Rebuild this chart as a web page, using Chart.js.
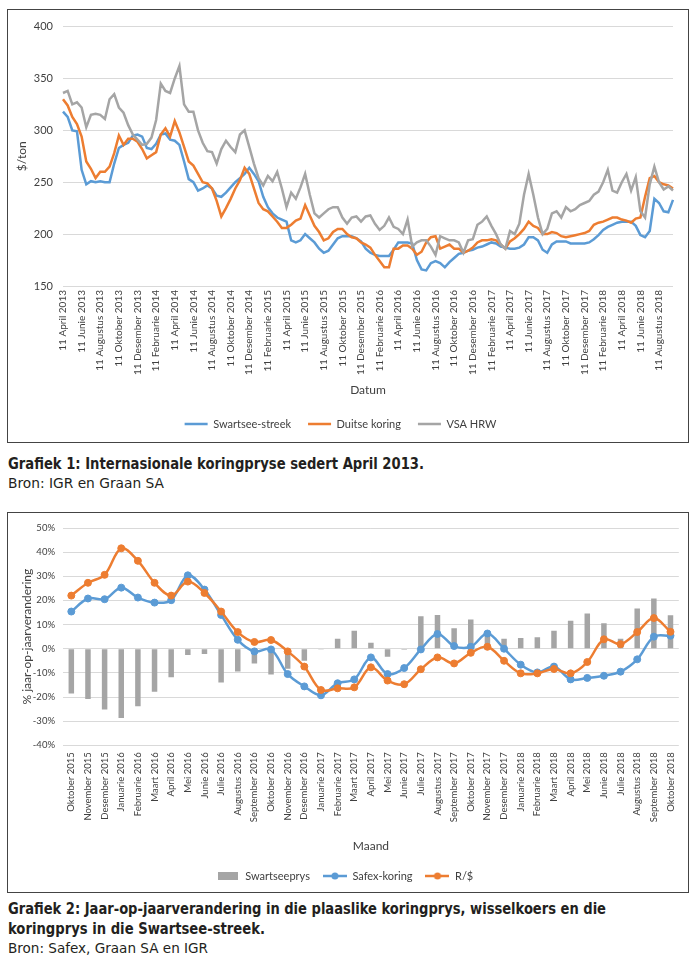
<!DOCTYPE html>
<html><head><meta charset="utf-8">
<script src="https://cdn.jsdelivr.net/npm/chart.js@4.4.1/dist/chart.umd.min.js"></script>
<style>
html,body{margin:0;padding:0;background:#fff;}
body{width:700px;height:956px;position:relative;overflow:hidden;}
.box{position:absolute;border:1.5px solid #444;box-sizing:border-box;}
canvas{position:absolute;}
.cap{position:absolute;left:8px;white-space:nowrap;color:#231f20;transform-origin:0 0;line-height:1;}
.cb{font-weight:bold;font-size:16px;font-family:"Liberation Sans Narrow","DejaVu Sans Condensed","Roboto",sans-serif;}
.cr{font-size:14px;font-family:"Liberation Sans Narrow","DejaVu Sans Condensed","Roboto",sans-serif;}
</style></head><body>
<div class="box" style="left:7px;top:9px;width:682px;height:434px"></div>
<div class="box" style="left:7px;top:512px;width:682px;height:381px"></div>
<canvas id="c1" width="681" height="432" style="left:8px;top:10px"></canvas>
<canvas id="c2" width="681" height="379" style="left:8px;top:513px"></canvas>
<div class="cap cb" data-w="416" style="top:456px">Grafiek 1: Internasionale koringpryse sedert April 2013.</div>
<div class="cap cr" data-w="156" style="top:476px">Bron: IGR en Graan SA</div>
<div class="cap cb" data-w="598" style="top:901px">Grafiek 2: Jaar-op-jaarverandering in die plaaslike koringprys, wisselkoers en die</div>
<div class="cap cb" data-w="257" style="top:921px">koringprys in die Swartsee-streek.</div>
<div class="cap cr" data-w="200" style="top:941px">Bron: Safex, Graan SA en IGR</div>
<script>
// ---------- Chart 1 data ----------
const monthNames = ['Januarie','Februarie','Maart','April','Mei','Junie','Julie','Augustus','September','Oktober','November','Desember'];
const halfMonthDays = ['11','26'];
const startYear = 2013, startMonthIdx = 3, monthCount = 66;
const dates = [];
for (let k = 0; k < monthCount; k++) {
  const m = (startMonthIdx + k) % 12, y = startYear + Math.floor((startMonthIdx + k) / 12);
  halfMonthDays.forEach(d => dates.push(d + ' ' + monthNames[m] + ' ' + y));
}
const swartseeStreek = [
318,313,300,299,262,248,251,250,251,250,
250,268,283,286,288,295,296,294,283,282,
287,296,297,291,290,286,270,253,250,242,
244,247,244,237,236,240,245,250,254,258,
264,258,251,236,226,220,216,214,212,194,
192,194,200,196,192,186,182,184,190,196,
198,198,198,196,193,186,182,180,179,179,
179,185,192,192,192,191,175,166,165,172,
174,172,168,173,177,181,182,184,185,187,
188,190,192,191,188,187,186,186,187,190,
197,197,194,185,182,190,193,193,193,191,
191,191,191,192,195,199,204,207,209,211,
212,212,212,208,199,197,203,234,230,222,
221,233];
const duitseKoring = [
330,324,313,306,294,270,263,254,260,260,
265,278,295,286,292,292,289,282,273,276,
279,296,302,294,309,298,284,270,266,258,
250,249,244,232,217,225,234,244,252,264,
258,244,230,224,222,217,212,206,206,209,
213,215,228,218,208,202,194,196,202,205,
205,200,197,196,192,190,187,180,174,168,
168,186,186,189,189,186,180,183,192,197,
198,186,188,190,186,186,182,184,187,192,
194,194,195,194,190,186,193,196,200,205,
212,208,206,200,200,202,201,198,197,198,
199,200,201,203,209,211,212,214,216,216,
214,213,211,215,216,236,254,256,250,248,
247,244];
const vsaHrw = [
336,338,325,327,322,303,315,316,315,311,
330,335,322,317,305,296,291,286,287,293,
310,345,338,336,350,362,325,318,318,300,
288,280,279,268,282,290,284,279,296,300,
284,268,254,247,256,251,260,244,226,240,
234,245,258,238,220,216,220,224,226,226,
216,210,216,217,212,217,218,210,204,208,
216,207,205,200,214,188,192,194,194,188,
180,198,196,194,194,192,182,194,195,209,
212,217,208,200,190,186,203,200,210,238,
258,238,216,200,205,220,222,216,226,222,
224,228,230,232,238,241,250,262,242,240,
250,258,242,255,222,216,248,265,250,243,
246,242];
const tickEvery = 4;

// ---------- Chart 2 data ----------
const months2 = ['Oktober 2015','November 2015','Desember 2015','Januarie 2016','Februarie 2016','Maart 2016','April 2016','Mei 2016','Junie 2016','Julie 2016','Augustus 2016','September 2016','Oktober 2016','November 2016','Desember 2016','Januarie 2017','Februarie 2017','Maart 2017','April 2017','Mei 2017','Junie 2017','Julie 2017','Augustus 2017','September 2017','Oktober 2017','November 2017','Desember 2017','Januarie 2018','Februarie 2018','Maart 2018','April 2018','Mei 2018','Junie 2018','Julie 2018','Augustus 2018','September 2018','Oktober 2018'];
const swartseeprys = [-18.5,-20.8,-25.2,-28.7,-23.8,-17.8,-11.8,-2.6,-2.2,-14.0,-9.4,-6.1,-10.7,-8.3,-5.0,-0.3,4.1,7.4,2.5,-3.3,-0.4,13.5,14.0,8.5,12.1,6.2,4.1,4.4,4.7,7.4,11.6,14.6,10.5,4.1,16.7,20.8,13.9];
const safexKoring = [15.4,20.8,20.5,25.3,21.2,19.1,20.1,30.4,24.5,14.0,3.7,-1.1,-0.3,-10.5,-15.6,-19.3,-14.3,-12.7,-3.6,-10.5,-8.0,-0.3,6.1,1.1,0.8,6.3,0.0,-6.6,-9.8,-7.4,-12.7,-12.1,-11.2,-9.5,-4.4,5.0,5.4];
const randDollar = [22.0,27.3,30.6,41.6,36.4,27.3,22.0,27.8,23.1,15.4,6.9,2.8,3.6,-1.1,-7.4,-17.1,-16.4,-16.0,-7.7,-13.2,-14.7,-8.5,-3.6,-6.1,-1.7,0.8,-5.0,-10.2,-10.2,-8.4,-10.2,-5.5,3.9,1.9,6.9,12.7,7.0];

const BLUE = '#5B9BD5', ORANGE = '#ED7D31', GRAY = '#A5A5A5';
const TXT = '#404040', GRID = '#D9D9D9';
Chart.defaults.font.family = 'Lato';
Chart.defaults.color = TXT;

new Chart(document.getElementById('c1'), {
  type: 'line',
  data: {
    labels: dates,
    datasets: [
      {label: 'Swartsee-streek', data: swartseeStreek, borderColor: BLUE, backgroundColor: BLUE, borderWidth: 2.5, pointRadius: 0, order: 3},
      {label: 'Duitse koring', data: duitseKoring, borderColor: ORANGE, backgroundColor: ORANGE, borderWidth: 2.5, pointRadius: 0, order: 2},
      {label: 'VSA HRW', data: vsaHrw, borderColor: GRAY, backgroundColor: GRAY, borderWidth: 2.5, pointRadius: 0, order: 1}
    ]
  },
  options: {
    responsive: false, animation: false,
    layout: {padding: {top: 13, right: 16, bottom: 2.5, left: 0}},
    plugins: {
      tooltip: {enabled: false},
      legend: {position: 'bottom', labels: {usePointStyle: true, pointStyle: 'line', pointStyleWidth: 23, padding: 17, font: {size: 11}, color: TXT, sort: (a, b) => a.datasetIndex - b.datasetIndex}}
    },
    scales: {
      x: {
        grid: {display: false, drawTicks: false}, border: {display: false},
        ticks: {autoSkip: false, minRotation: 90, maxRotation: 90, padding: 4, font: {size: 10}, color: TXT,
          callback: function(v, i) { return i % tickEvery === 0 ? this.getLabelForValue(v) : ''; }},
        title: {display: true, text: 'Datum', font: {size: 12}, color: TXT, padding: {top: 4, bottom: 4}},
        afterFit: s => { s.height = 115.5; }
      },
      y: {
        min: 150, max: 400,
        grid: {color: GRID, drawTicks: false}, border: {display: false},
        ticks: {stepSize: 50, padding: 10, font: {size: 11}, color: TXT},
        title: {display: true, text: '$/ton', font: {size: 12}, color: TXT, padding: {top: 7, bottom: 0}},
        afterFit: s => { s.width = 55; }
      }
    }
  }
});

function lineIcon(color) {
  const c = document.createElement('canvas'); c.width = 24; c.height = 10;
  const g = c.getContext('2d');
  g.strokeStyle = color; g.lineWidth = 2.5; g.beginPath(); g.moveTo(0, 5); g.lineTo(24, 5); g.stroke();
  g.fillStyle = color; g.beginPath(); g.arc(12, 5, 3.5, 0, Math.PI * 2); g.fill();
  return c;
}
function boxIcon(color) {
  const c = document.createElement('canvas'); c.width = 20; c.height = 8;
  const g = c.getContext('2d'); g.fillStyle = color; g.fillRect(0, 0, 20, 8);
  return c;
}
const legendIcons = [boxIcon(GRAY), lineIcon(BLUE), lineIcon(ORANGE)];

new Chart(document.getElementById('c2'), {
  type: 'bar',
  data: {
    labels: months2,
    datasets: [
      {type: 'bar', label: 'Swartseeprys', data: swartseeprys, backgroundColor: GRAY, categoryPercentage: 1, barPercentage: 0.33, order: 3},
      {type: 'line', label: 'Safex-koring', data: safexKoring, borderColor: BLUE, backgroundColor: BLUE, borderWidth: 2.5, pointRadius: 3.5, pointBorderWidth: 1, pointBackgroundColor: BLUE, tension: 0.35, order: 2},
      {type: 'line', label: 'R/$', data: randDollar, borderColor: ORANGE, backgroundColor: ORANGE, borderWidth: 2.5, pointRadius: 3.5, pointBorderWidth: 1, pointBackgroundColor: ORANGE, tension: 0.35, order: 1}
    ]
  },
  options: {
    responsive: false, animation: false,
    layout: {padding: {top: 15, right: 8, bottom: 0.5, left: 0}},
    plugins: {
      tooltip: {enabled: false},
      legend: {position: 'bottom', labels: {usePointStyle: true, pointStyleWidth: 24, padding: 13, font: {size: 11}, color: TXT,
        sort: (a, b) => a.datasetIndex - b.datasetIndex,
        generateLabels(chart) {
          const items = Chart.defaults.plugins.legend.labels.generateLabels(chart);
          items.forEach(it => { it.pointStyle = legendIcons[it.datasetIndex]; });
          return items;
        }}}
    },
    scales: {
      x: {
        grid: {display: false, drawTicks: false}, border: {display: false},
        ticks: {autoSkip: false, minRotation: 90, maxRotation: 90, padding: 7, font: {size: 9.5}, color: TXT},
        title: {display: true, text: 'Maand', font: {size: 12}, color: TXT, padding: {top: 4, bottom: 4}},
        afterFit: s => { s.height = 112.2; }
      },
      y: {
        min: -40, max: 50,
        grid: {color: GRID, drawTicks: false}, border: {display: false},
        ticks: {stepSize: 10, padding: 8, font: {size: 9.5}, color: TXT, callback: v => v + '%'},
        title: {display: true, text: '% jaar-op-jaarverandering', font: {size: 12}, color: TXT, padding: {top: 12.4, bottom: 0}},
        afterFit: s => { s.width = 55; }
      }
    }
  }
});

document.querySelectorAll('.cap').forEach(el => {
  const w = el.getBoundingClientRect().width;
  const t = +el.dataset.w;
  if (w > 0) el.style.transform = 'scaleX(' + (t / w) + ')';
});
</script>
</body></html>
